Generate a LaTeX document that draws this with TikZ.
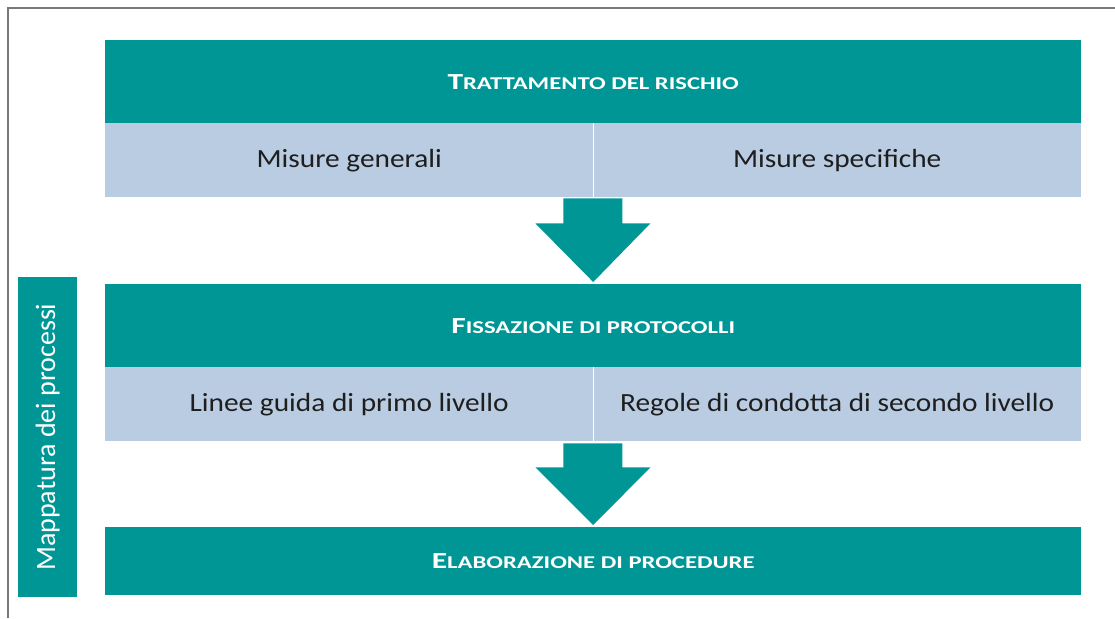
\documentclass[tikz,border=0pt]{standalone}
\usepackage{fontspec}
\setmainfont{Carlito}
\newfontfamily\bandfont{Carlito}[FakeStretch=1.12]
\newfontfamily\titlefont{Carlito}[FakeStretch=1.37]
\usetikzlibrary{calc}
\definecolor{tealbox}{RGB}{0,150,150}
\definecolor{bandcol}{RGB}{185,204,226}
\definecolor{frameg}{RGB}{120,120,120}
\definecolor{txtdark}{RGB}{30,30,30}
\newcommand{\fsc}[2]{#1{\fontsize{18}{20}\selectfont #2}}
\tikzset{
  titlebox/.style={fill=tealbox, draw=none, inner sep=0pt, text=white,
    font=\titlefont\fontsize{23}{26}\selectfont\bfseries},
  bandbox/.style={fill=bandcol, draw=none, inner sep=0pt, text=txtdark,
    font=\bandfont\fontsize{26.2}{30}\selectfont},
  sidebox/.style={fill=tealbox, draw=none, inner sep=0pt, text=white,
    font=\fontsize{28}{32}\selectfont},
  blockarrow/.style={fill=tealbox, draw=none},
  divider/.style={draw=white, line width=1pt},
  frameline/.style={draw=frameg, line width=1.6pt}
}
\begin{document}
\begin{tikzpicture}[x=1pt,y=-1pt]
\useasboundingbox (0,0) rectangle (1115,618);
\draw[frameline] (8,618) -- (8,8) -- (1115,8);

% boxes
\node[titlebox, minimum width=976pt, minimum height=83pt, anchor=north west] (t1) at (105,40) {\fsc{T}{RATTAMENTO DEL RISCHIO}};
\node[bandbox, minimum width=488pt, minimum height=74pt, anchor=north west] (b1l) at (105,123) {Misure generali};
\node[bandbox, minimum width=488pt, minimum height=74pt, anchor=north west] (b1r) at (593,123) {Misure specifiche};
\draw[divider] (b1l.north east) -- (b1l.south east);

\node[titlebox, minimum width=976pt, minimum height=83pt, anchor=north west] (t2) at (105,284) {\fsc{F}{ISSAZIONE DI PROTOCOLLI}};
\node[bandbox, minimum width=488pt, minimum height=74pt, anchor=north west] (b2l) at (105,367) {Linee guida di primo livello};
\node[bandbox, minimum width=488pt, minimum height=74pt, anchor=north west] (b2r) at (593,367) {Regole di condotta di secondo livello};
\draw[divider] (b2l.north east) -- (b2l.south east);

\node[titlebox, minimum width=976pt, minimum height=68pt, anchor=north west] (t3) at (105,527) {\fsc{E}{LABORAZIONE DI PROCEDURE}};

\node[sidebox, minimum width=59pt, minimum height=320pt, anchor=north west] (side) at (18,277) {};
\node[sidebox, rotate=90] (sidelbl) at (side.center) {Mappatura dei processi};

% block arrows
\coordinate (a1top) at ($(b1l.south east)+(0,1)$);
\coordinate (a1tip) at ($(t2.north)+(0,-2)$);
\fill[blockarrow] ($(a1top)+(-30,0)$) -- ($(a1top)+(29,0)$) -- ($(a1top)+(29,25)$) -- ($(a1top)+(57,25)$)
  -- (a1tip) -- ($(a1top)+(-58,25)$) -- ($(a1top)+(-30,25)$) -- cycle;

\coordinate (a2top) at ($(b2l.south east)+(0,2)$);
\coordinate (a2tip) at ($(t3.north)+(0,-2)$);
\fill[blockarrow] ($(a2top)+(-30,0)$) -- ($(a2top)+(29,0)$) -- ($(a2top)+(29,24)$) -- ($(a2top)+(57,24)$)
  -- (a2tip) -- ($(a2top)+(-58,24)$) -- ($(a2top)+(-30,24)$) -- cycle;
\end{tikzpicture}
\end{document}
